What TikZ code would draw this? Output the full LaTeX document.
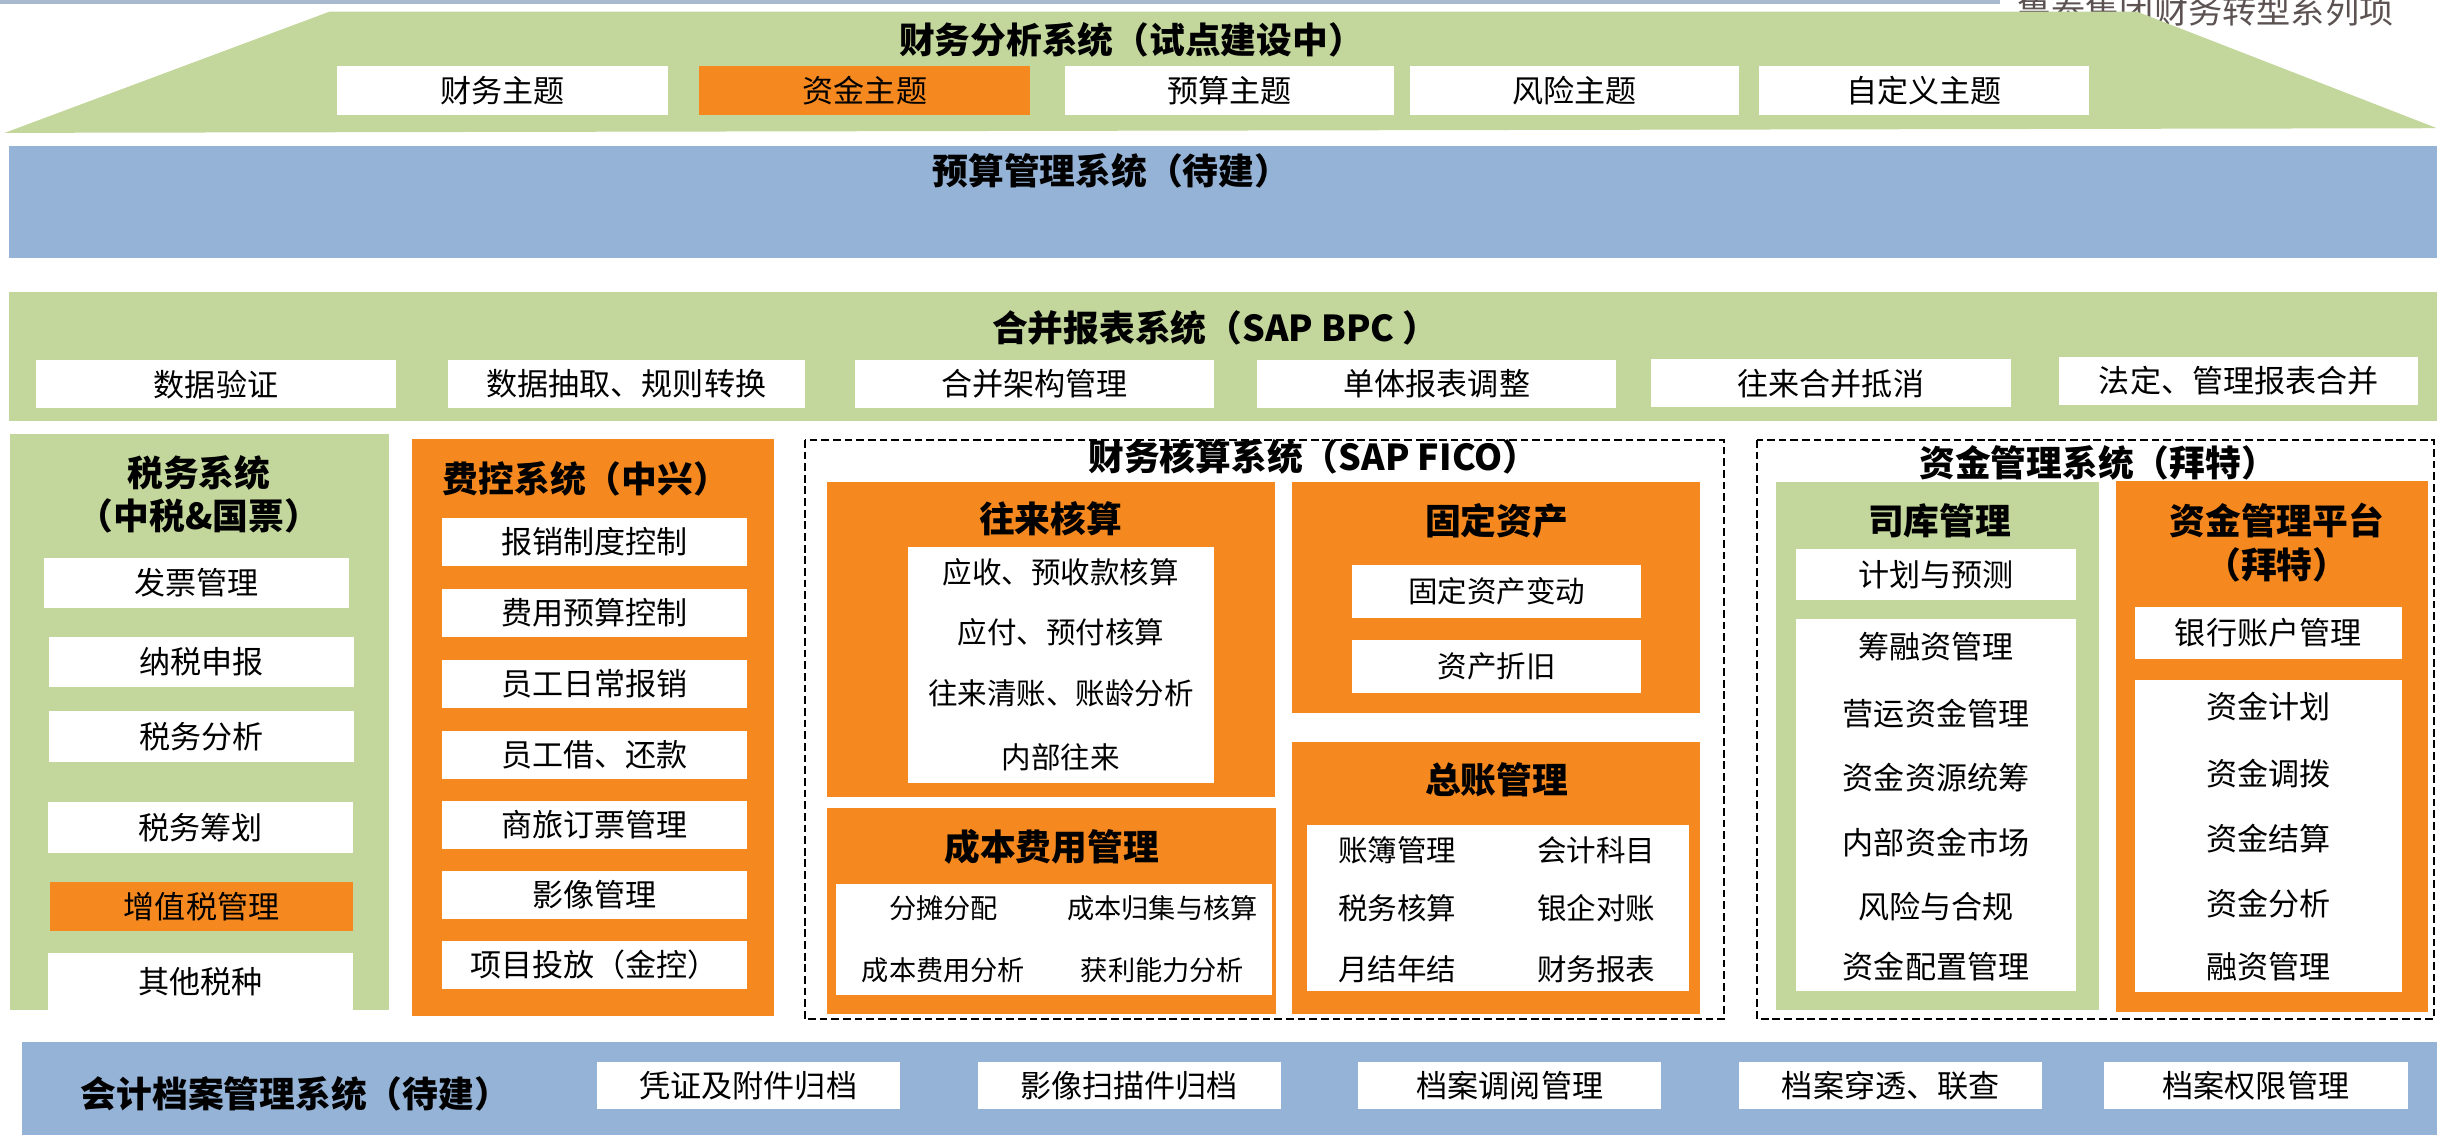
\documentclass[tikz,border=0pt]{standalone}
\usepackage{fontspec}
\setmainfont{Noto Sans CJK SC}
\definecolor{lgreen}{RGB}{195,214,155}
\definecolor{lblue}{RGB}{149,179,215}
\definecolor{orng}{RGB}{245,137,31}
\definecolor{topbar}{RGB}{168,184,206}
\definecolor{headgray}{RGB}{92,82,82}

\begin{document}
\begin{tikzpicture}[x=1pt,y=-1pt,
  wbox/.style={fill=white,inner sep=0pt,font=\fontsize{20}{24}\selectfont},
  obox/.style={wbox,fill=orng},
  item/.style={inner sep=0pt,font=\fontsize{20}{24}\selectfont},
  small/.style={inner sep=0pt,font=\fontsize{19}{23}\selectfont},
  tiny/.style={inner sep=0pt,font=\fontsize{17.5}{21}\selectfont},
  head/.style={inner sep=0pt,align=center,font=\bfseries\fontsize{23}{28}\selectfont},
  frame/.style={draw=black,line width=1.3pt,dash pattern=on 5pt off 2.5pt}]
\useasboundingbox (0,0) rectangle (1568,730.3);
\fill[topbar] (0,0) rectangle (1287,2.5);
\node[inner sep=0pt,text=headgray,font=\fontsize{22}{26}\selectfont] (Series) at (1419,7) {鲁泰集团财务转型系列项};
\fill[lgreen] (212,7.5) -- (1375,7.5) -- (1568,82.5) -- (3,85.5) -- cycle;
\node[head] (Analysis) at (728,25.7) {财务分析系统（试点建设中）};
\node[wbox,minimum width=213pt,minimum height=31.5pt] (Topic1) at (323.5,58.2) {财务主题};
\node[obox,minimum width=213pt,minimum height=31.5pt] (Topic2) at (556.5,58.2) {资金主题};
\node[wbox,minimum width=212pt,minimum height=31.5pt] (Topic3) at (791,58.2) {预算主题};
\node[wbox,minimum width=212pt,minimum height=31.5pt] (Topic4) at (1013,58.2) {风险主题};
\node[wbox,minimum width=212pt,minimum height=31.5pt] (Topic5) at (1238,58.2) {自定义主题};

\fill[lblue] (6,93.9) rectangle (1568,166.3);
\node[head] (Budget) at (715,110) {预算管理系统（待建）};

\fill[lgreen] (6,187.7) rectangle (1568,271);
\node[head] (Consol) at (782,211) {合并报表系统（SAP BPC ）};
\node[wbox,minimum width=232pt,minimum height=30.6pt] (Cons1) at (139,247.2) {数据验证};
\node[wbox,minimum width=230pt,minimum height=30.6pt] (Cons2) at (403,247.2) {数据抽取、规则转换};
\node[wbox,minimum width=231pt,minimum height=30.6pt] (Cons3) at (665.5,247.2) {合并架构管理};
\node[wbox,minimum width=231pt,minimum height=30.6pt] (Cons4) at (924.5,247.2) {单体报表调整};
\node[wbox,minimum width=232pt,minimum height=30.6pt] (Cons5) at (1178,246.6) {往来合并抵消};
\node[wbox,minimum width=231pt,minimum height=30.7pt] (Cons6) at (1440.5,245) {法定、管理报表合并};

\fill[lgreen] (6.6,279.2) rectangle (250,650);
\node[head] (Tax) at (128,318) {税务系统\\（中税\&国票）};
\node[wbox,minimum width=196.6pt,minimum height=32.6pt] (Tax1) at (126.3,375.1) {发票管理};
\node[wbox,minimum width=196.5pt,minimum height=32.5pt] (Tax2) at (129.7,426) {纳税申报};
\node[wbox,minimum width=196.5pt,minimum height=32.5pt] (Tax3) at (129.7,474) {税务分析};
\node[wbox,minimum width=196.3pt,minimum height=32.5pt] (Tax4) at (129,532.5) {税务筹划};
\node[obox,minimum width=195pt,minimum height=31.3pt] (Tax5) at (129.7,583.3) {增值税管理};
\node[wbox,minimum width=196.3pt,minimum height=36.6pt] (Tax6) at (129,631.7) {其他税种};

\fill[orng] (265,282.4) rectangle (498,653.7);
\node[head] (Fee) at (377,307.8) {费控系统（中兴）};
\foreach \y/\t [count=\i] in {348.8/报销制度控制,394.3/费用预算控制,440/员工日常报销,485.6/员工借、还款,530.8/商旅订票管理,575.9/影像管理,620.9/项目投放（金控）}
  \node[wbox,minimum width=196.3pt,minimum height=31pt] (Fee\i) at (382.5,\y) {\t};

\draw[frame] (517.7,283) rectangle (1109,655.8);
\node[head] (Fico) at (845,293.7) {财务核算系统（SAP FICO）};
\fill[orng] (532,310.2) rectangle (820.5,512.5);
\node[head] (Recv) at (676,334) {往来核算};
\fill[white] (584,351.8) rectangle (781.3,503.5);
\foreach \y/\t [count=\i] in {368.4/应收、预收款核算,407.1/应付、预付核算,446.2/往来清账、账龄分析,487.5/内部往来}
  \node[small] (Recv\i) at (682.6,\y) {\t};
\fill[orng] (532,520.1) rectangle (821.2,652.2);
\node[head] (Cost) at (676.6,545) {成本费用管理};
\fill[white] (538,569) rectangle (818.3,640.5);
\node[tiny] (Cost1) at (607,584.4) {分摊分配};
\node[tiny] (Cost2) at (748,584.4) {成本归集与核算};
\node[tiny] (Cost3) at (607,624.1) {成本费用分析};
\node[tiny] (Cost4) at (748,624.1) {获利能力分析};
\fill[orng] (831.2,310.2) rectangle (1094,458.9);
\node[head] (Asset) at (963,335.2) {固定资产};
\node[wbox,small,minimum width=186.1pt,minimum height=34.4pt] (Asset1) at (963,380.5) {固定资产变动};
\node[wbox,small,minimum width=186.1pt,minimum height=34.4pt] (Asset2) at (963,428.9) {资产折旧};
\fill[orng] (831.2,477.3) rectangle (1094,652.2);
\node[head] (Ledger) at (963,501.7) {总账管理};
\fill[white] (840.8,530.8) rectangle (1087,637.9);
\node[small] (Ledger1) at (899,546.9) {账簿管理};
\node[small] (Ledger2) at (1027,546.9) {会计科目};
\node[small] (Ledger3) at (899,584.4) {税务核算};
\node[small] (Ledger4) at (1027,584.4) {银企对账};
\node[small] (Ledger5) at (899,623.4) {月结年结};
\node[small] (Ledger6) at (1027,623.4) {财务报表};

\draw[frame] (1130.7,283) rectangle (1566,655.8);
\node[head] (Fund) at (1350,297.5) {资金管理系统（拜特）};
\fill[lgreen] (1143,310.2) rectangle (1350.8,650);
\node[head] (Treasury) at (1248,335.2) {司库管理};
\node[wbox,minimum width=179.9pt,minimum height=33.2pt] (Plan) at (1245.7,369.6) {计划与预测};
\fill[white] (1155.8,398.5) rectangle (1335.7,637.4);
\foreach \y/\t [count=\i] in {416/筹融资管理,458.9/营运资金管理,500.5/资金资源统筹,542.3/内部资金市场,583.3/风险与合规,622.1/资金配置管理}
  \node[item] (Treasury\i) at (1245.7,\y) {\t};
\fill[orng] (1361.4,309.7) rectangle (1562.5,651.4);
\node[head] (Platform) at (1465,349.2) {资金管理平台\\（拜特）};
\node[wbox,minimum width=171.8pt,minimum height=33.2pt] (Bank) at (1459.4,407.4) {银行账户管理};
\fill[white] (1373.5,437.2) rectangle (1545.3,638.2);
\foreach \y/\t [count=\i] in {454.3/资金计划,497.9/资金调拨,539.7/资金结算,581.3/资金分析,622.1/融资管理}
  \node[item] (Platform\i) at (1459.4,\y) {\t};

\fill[lblue] (14,670.4) rectangle (1568,730.3);
\node[head] (Archive) at (190,704) {会计档案管理系统（待建）};
\node[wbox,minimum width=195pt,minimum height=30pt] (Arch1) at (481.5,698.4) {凭证及附件归档};
\node[wbox,minimum width=195pt,minimum height=30pt] (Arch2) at (726.5,698.4) {影像扫描件归档};
\node[wbox,minimum width=195pt,minimum height=30pt] (Arch3) at (971.5,698.4) {档案调阅管理};
\node[wbox,minimum width=195pt,minimum height=30pt] (Arch4) at (1216.5,698.4) {档案穿透、联查};
\node[wbox,minimum width=195pt,minimum height=30pt] (Arch5) at (1451.5,698.4) {档案权限管理};
\end{tikzpicture}
\end{document}
